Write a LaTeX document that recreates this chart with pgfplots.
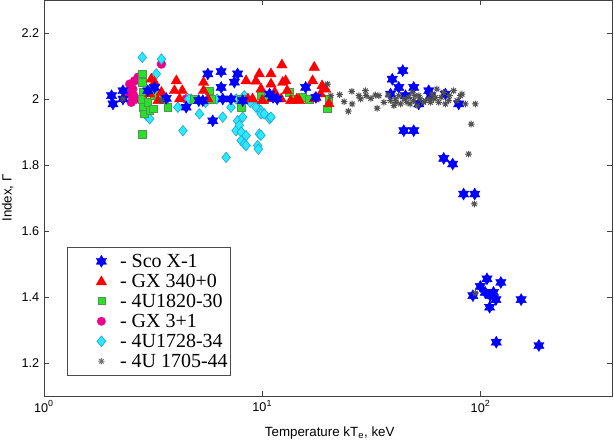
\documentclass[border=0pt]{standalone}
\usepackage{fontspec}
\setmainfont{Liberation Sans}
\newfontfamily\serif{Liberation Serif}
\newcommand\legfont{\serif\fontsize{15pt}{16pt}\selectfont}
\usepackage{pgfplots}
\pgfplotsset{compat=1.18}
\definecolor{cygrn}{RGB}{40,225,40}
\definecolor{cygrnd}{RGB}{80,150,80}
\definecolor{cyfill}{RGB}{40,235,255}
\definecolor{cyedge}{RGB}{40,165,215}
\definecolor{astgray}{RGB}{80,80,80}

\pgfdeclareplotmark{hexstar}{%
 \pgfpathmoveto{\pgfqpoint{0pt}{\pgfplotmarksize}}%
 \pgfpathlineto{\pgfqpoint{0.866\pgfplotmarksize}{-0.5\pgfplotmarksize}}%
 \pgfpathlineto{\pgfqpoint{-0.866\pgfplotmarksize}{-0.5\pgfplotmarksize}}%
 \pgfpathclose
 \pgfpathmoveto{\pgfqpoint{0pt}{-\pgfplotmarksize}}%
 \pgfpathlineto{\pgfqpoint{-0.866\pgfplotmarksize}{0.5\pgfplotmarksize}}%
 \pgfpathlineto{\pgfqpoint{0.866\pgfplotmarksize}{0.5\pgfplotmarksize}}%
 \pgfpathclose
 \pgfusepathqfillstroke}
\pgfdeclareplotmark{tri}{%
 \pgfpathmoveto{\pgfqpoint{0pt}{\pgfplotmarksize}}%
 \pgfpathlineto{\pgfqpoint{0.866\pgfplotmarksize}{-0.5\pgfplotmarksize}}%
 \pgfpathlineto{\pgfqpoint{-0.866\pgfplotmarksize}{-0.5\pgfplotmarksize}}%
 \pgfpathclose
 \pgfusepathqfillstroke}
\pgfdeclareplotmark{sq}{%
 \pgfpathrectangle{\pgfqpoint{-\pgfplotmarksize}{-\pgfplotmarksize}}{\pgfqpoint{2\pgfplotmarksize}{2\pgfplotmarksize}}%
 \pgfusepathqfillstroke}
\pgfdeclareplotmark{dia}{%
 \pgfpathmoveto{\pgfqpoint{0pt}{\pgfplotmarksize}}%
 \pgfpathlineto{\pgfqpoint{0.82\pgfplotmarksize}{0pt}}%
 \pgfpathlineto{\pgfqpoint{0pt}{-\pgfplotmarksize}}%
 \pgfpathlineto{\pgfqpoint{-0.82\pgfplotmarksize}{0pt}}%
 \pgfpathclose
 \pgfusepathqfillstroke}
\pgfdeclareplotmark{asteight}{%
 \pgfpathmoveto{\pgfqpoint{-\pgfplotmarksize}{0pt}}\pgfpathlineto{\pgfqpoint{\pgfplotmarksize}{0pt}}%
 \pgfpathmoveto{\pgfqpoint{0pt}{-\pgfplotmarksize}}\pgfpathlineto{\pgfqpoint{0pt}{\pgfplotmarksize}}%
 \pgfpathmoveto{\pgfqpoint{-0.707\pgfplotmarksize}{-0.707\pgfplotmarksize}}\pgfpathlineto{\pgfqpoint{0.707\pgfplotmarksize}{0.707\pgfplotmarksize}}%
 \pgfpathmoveto{\pgfqpoint{-0.707\pgfplotmarksize}{0.707\pgfplotmarksize}}\pgfpathlineto{\pgfqpoint{0.707\pgfplotmarksize}{-0.707\pgfplotmarksize}}%
 \pgfusepathqstroke}

\pgfplotsset{
 scostyle/.style={only marks, mark=hexstar, mark size=4.5pt, mark options={fill=blue, draw=blue, line width=0.3pt}},
 gxstyle/.style={only marks, mark=tri, mark size=4.5pt, mark options={fill=red, draw=red, line width=0.3pt}},
 ustyle/.style={only marks, mark=sq, mark size=2.9pt, mark options={fill=cygrn, draw=cygrnd, line width=0.5pt}},
 gx3style/.style={only marks, mark=*, mark size=3.4pt, mark options={fill=magenta, draw=magenta, line width=0.2pt}},
 cystyle/.style={only marks, mark=dia, mark size=3.9pt, mark options={fill=cyfill, draw=cyedge, line width=0.5pt}},
 aststyle/.style={only marks, mark=asteight, mark size=2.5pt, mark options={draw=astgray, line width=0.75pt}},
}

\begin{document}
\begin{tikzpicture}
\begin{axis}[name=ax,
 xmode=log, log basis x=10,
 scale only axis, width=426pt, height=297pt,
 xmin=1, xmax=400, ymin=1.1, ymax=2.3,
 xtick={1,10,100}, xticklabels={10\textsuperscript{0},10\textsuperscript{1},10\textsuperscript{2}},
 ytick={1.2,1.4,1.6,1.8,2,2.2}, yticklabels={1.2,1.4,1.6,1.8,2,2.2},
 tick align=inside, major tick length=3.5pt, minor tick length=2pt,
 tick style={black!75, line width=0.5pt},
 axis line style={black!75, line width=0.6pt},
 ticklabel style={font=\fontsize{9.5pt}{11pt}\selectfont},
 xlabel={Temperature kT\textsubscript{e}, keV}, ylabel={Index, Γ},
 label style={font=\fontsize{10pt}{12pt}\selectfont},
 xlabel style={at={(axis description cs:0.503,-0.1035)}, anchor=base},
 ylabel style={at={(axis description cs:-0.0568,0.5)}, anchor=base},
 legend cell align=left,
 legend style={at={(0.0405,0.0505)}, anchor=south west, draw=black!70, line width=0.5pt,
   inner xsep=0pt, inner ysep=3.3pt, row sep=0pt, column sep=3pt,
   nodes={inner xsep=2pt, inner ysep=0pt, text height=12.47pt, text depth=2.53pt}},
]
\addlegendimage{legend image code/.code={\path (0pt,0pt) (34pt,0pt); \draw[mark=hexstar, mark size=4.5pt, mark options={fill=blue, draw=blue, line width=0.3pt}] plot coordinates {(25.3pt,0pt)};}}
\addlegendentry{\legfont - Sco X-1}
\addlegendimage{legend image code/.code={\path (0pt,0pt) (34pt,0pt); \draw[mark=tri, mark size=4.5pt, mark options={fill=red, draw=red, line width=0.3pt}] plot coordinates {(25.3pt,-0.5pt)};}}
\addlegendentry{\legfont - GX 340+0}
\addlegendimage{legend image code/.code={\path (0pt,0pt) (34pt,0pt); \draw[mark=sq, mark size=2.6pt, mark options={fill=cygrn, draw=cygrnd, line width=0.5pt}] plot coordinates {(25.3pt,0pt)};}}
\addlegendentry{\legfont - 4U1820-30}
\addlegendimage{legend image code/.code={\path (0pt,0pt) (34pt,0pt); \draw[mark=*, mark size=3.2pt, mark options={fill=magenta, draw=magenta, line width=0.2pt}] plot coordinates {(25.3pt,0pt)};}}
\addlegendentry{\legfont - GX 3+1}
\addlegendimage{legend image code/.code={\path (0pt,0pt) (34pt,0pt); \draw[mark=dia, mark size=4.0pt, mark options={fill=cyfill, draw=cyedge, line width=0.5pt}] plot coordinates {(25.3pt,0pt)};}}
\addlegendentry{\legfont - 4U1728-34}
\addlegendimage{legend image code/.code={\path (0pt,0pt) (34pt,0pt); \draw[mark=asteight, mark size=2.4pt, mark options={draw=astgray!80, line width=0.7pt}] plot coordinates {(25.3pt,0pt)};}}
\addlegendentry{\legfont - 4U 1705-44\hspace{7pt}}

% GX 3+1
\addplot[gx3style, forget plot] coordinates {
(2.43,2.015) (2.47,2.045) (2.51,2.02) (2.51,1.99) (2.60,2.055) (2.65,2.0)
(2.70,2.066) (2.55,2.03) (2.58,2.01) (3.45,2.106) (4.48,2.0)
};
% 4U1728-34
\addplot[cystyle, forget plot] coordinates {
(2.82,2.126) (3.45,2.121) (3.27,2.076) (2.94,1.95) (3.05,1.94) (4.10,1.975)
(4.33,1.904) (4.72,2.0) (4.6,2.0) (5.15,1.955) (5.5,1.99) (6.59,1.945) (6.83,1.823)
(7.19,1.975) (7.71,1.934) (7.58,1.904) (7.85,1.92) (8.0,1.9) (8.0,1.874)
(8.43,1.889) (8.27,1.864) (8.43,1.859) (8.27,2.01) (8.13,1.945) (9.52,1.975)
(9.36,1.975) (9.69,1.894) (9.86,1.89) (9.52,1.859) (9.6,1.848) (9.86,1.965)
(9.86,1.955) (10.2,1.955) (10.8,1.94) (10.96,1.945) (6.2,2.0) (7.6,2.0) (8.8,1.99)
};
% 4U1820-30
\addplot[ustyle, forget plot] coordinates {
(2.82,2.076) (2.82,2.05) (2.84,2.02) (2.82,2.0) (2.84,1.975) (2.89,1.955)
(2.82,1.894) (2.99,1.99) (3.05,1.965) (3.16,1.97) (3.16,2.03) (3.2,2.01)
(3.69,1.975) (3.55,2.0) (4.9,2.0) (5.73,2.025) (5.83,2.0) (8.0,1.975) (8.0,2.0)
(9.86,2.01) (10.2,2.0) (13.3,2.02) (13.8,2.0) (15.3,2.005) (16.4,2.0)
(19.9,1.97) (20.2,2.0)
};
% GX 340+0
\addplot[gxstyle, forget plot] coordinates {
(3.05,2.015) (3.10,2.06) (3.21,2.05) (3.33,1.995) (3.45,2.02) (3.96,2.025)
(4.04,2.055) (4.18,2.0) (4.30,2.025) (5.38,2.05) (5.38,2.025) (5.63,2.0)
(8.43,2.055) (8.6,2.0) (9.03,2.0) (9.35,2.054) (9.69,2.076) (9.87,2.03) (10.0,1.995)
(10.96,2.076) (10.96,2.045) (11.0,2.0) (11.4,2.02) (12.2,2.0) (12.3,2.103)
(12.4,2.05) (12.8,2.055) (13.0,2.025) (13.5,1.995) (14.4,2.0) (14.8,1.995)
(17.0,2.055) (17.3,2.096) (17.3,2.0) (18.5,2.015) (18.8,2.04) (19.5,2.03) (20.2,1.985)
};
% Sco X-1
\addplot[scostyle, forget plot] coordinates {
(2.04,2.01) (2.07,1.985) (2.30,2.025) (2.30,2.0) (2.99,2.025) (3.21,2.035)
(3.63,2.002) (4.48,1.975) (5.12,1.995) (5.34,1.995) (5.63,2.076) (5.93,1.934)
(6.48,2.083) (6.48,2.035) (6.59,2.0) (7.19,2.0) (7.45,2.051) (7.71,2.076)
(8.13,1.995) (10.8,2.015) (11.2,2.005) (11.7,2.0) (15.8,2.035) (17.6,2.005)
(38.7,2.015) (39.4,2.06) (42.2,2.035) (44.0,2.086) (45.3,2.01) (49.4,2.035)
(52.1,1.985) (57.9,2.025) (59.0,2.01) (69.0,2.015) (79.4,1.985)
(44.5,1.904) (49.4,1.904) (67.8,1.82) (74.5,1.803) (83.6,1.712) (94.0,1.712)
(92.2,1.404) (99.7,1.432) (105,1.414) (107,1.455) (110.7,1.404) (114.6,1.414)
(110,1.369) (117.5,1.392) (123.8,1.444) (153.4,1.392) (118,1.263) (185,1.253)
};
% 4U 1705-44
\addplot[aststyle, forget plot] coordinates {
(2.30,2.0) (3.45,1.995) (19.9,2.045) (20.6,2.01) (22.6,2.013) (23.7,1.992)
(24.8,1.963) (25.7,2.023) (25.8,1.985) (27.7,2.01) (28.2,2.0) (29.7,2.025)
(29.9,2.01) (31.4,2.002) (33.0,2.012) (33.6,1.972) (34.2,2.01) (36.1,1.99)
(37.7,2.012) (38.7,1.995) (40.1,1.98) (40.8,2.0) (41.0,1.99) (42.2,2.01)
(43.0,1.985) (44.5,2.0) (46.0,1.99) (46.9,2.005) (47.5,1.985) (48.6,2.02)
(49.4,1.995) (50.0,2.01) (51.2,1.98) (52.1,2.01) (53.0,2.0) (54.9,1.99)
(56.0,1.995) (57.9,2.0) (59.0,1.99) (60.0,2.015) (61.0,2.0) (62.1,2.005)
(63.1,2.03) (64.3,1.99) (66.0,2.005) (67.7,2.02) (69.0,1.985) (71.4,1.995)
(72.0,2.01) (75.3,2.025) (78.0,1.995) (80.8,2.01) (82.2,2.015) (85.1,1.985)
(94.6,1.985) (90.6,1.924) (88.1,1.833) (93.6,1.682) (94.6,1.412)
};
\end{axis}
\pgfresetboundingbox
\path[use as bounding box] ([shift={(-33pt,-35.25pt)}]ax.south west) rectangle ([shift={(1.5pt,0pt)}]ax.north east);
\end{tikzpicture}
\end{document}
